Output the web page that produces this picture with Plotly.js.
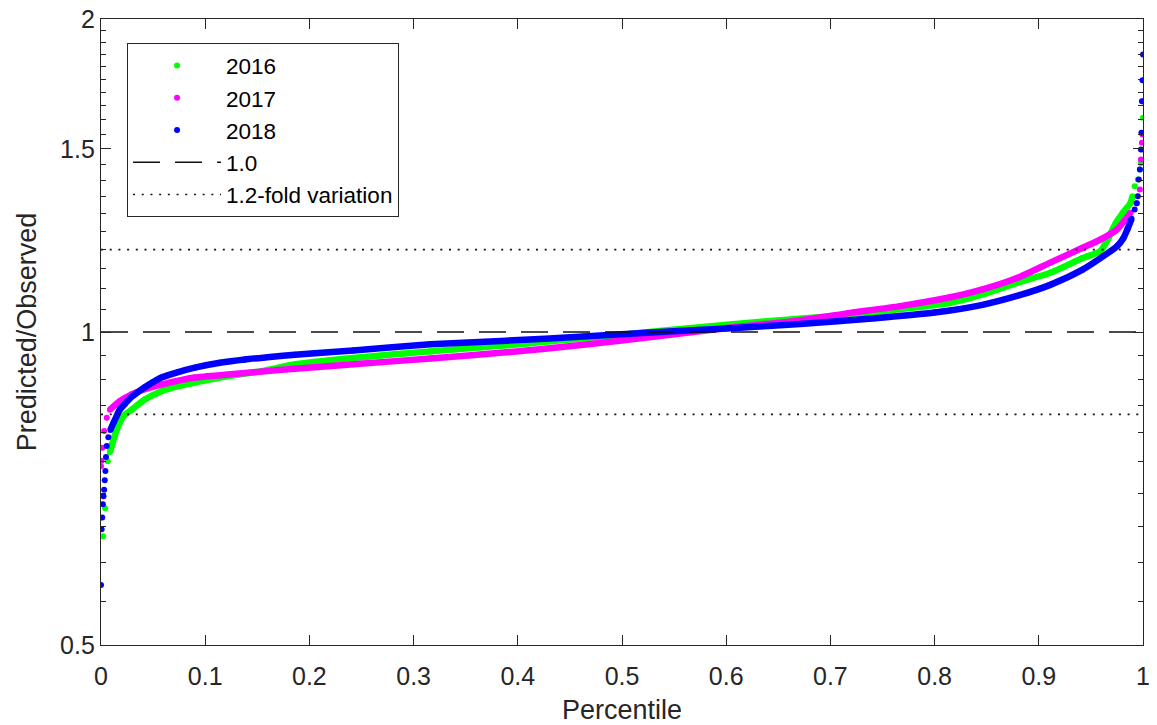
<!DOCTYPE html>
<html><head><meta charset="utf-8">
<script src="https://cdn.plot.ly/plotly-3.0.1.min.js"></script>
<style>html,body{margin:0;padding:0;background:#fff}#chart{width:1157px;height:725px}</style>
</head><body><div id="chart"></div>
<script>
// Percentile (fraction) and Predicted/Observed ratio
const pct2016 = [0.002, 0.004, 0.0065, 0.0086, 0.011, 0.013, 0.0166, 0.0214, 0.0295, 0.042,
  0.058, 0.074, 0.09, 0.122, 0.154, 0.187, 0.242, 0.316, 0.389, 0.463,
  0.536, 0.609, 0.671, 0.719, 0.767, 0.815, 0.846, 0.879, 0.911, 0.942,
  0.959, 0.966, 0.974, 0.981, 0.988, 0.99, 0.992, 0.995, 0.997, 0.998, 1.0];
const ratio2016 = [0.636, 0.677, 0.751, 0.766, 0.782, 0.794, 0.812, 0.83, 0.842, 0.861,
  0.877, 0.887, 0.894, 0.907, 0.917, 0.931, 0.944, 0.958, 0.971, 0.986,
  1.002, 1.018, 1.03, 1.039, 1.052, 1.067, 1.087, 1.115, 1.14, 1.178,
  1.196, 1.227, 1.273, 1.303, 1.331, 1.351, 1.381, 1.402, 1.433, 1.454, 1.607];

const pct2017 = [0, 0.0005, 0.0013, 0.003, 0.0055, 0.0086, 0.018, 0.0295, 0.042, 0.058,
  0.09, 0.122, 0.154, 0.186, 0.242, 0.316, 0.389, 0.463, 0.536, 0.609,
  0.671, 0.719, 0.767, 0.815, 0.846, 0.879, 0.911, 0.942, 0.959, 0.975,
  0.988, 0.994, 0.997, 0.998, 0.999, 0.9995, 1.0];
const ratio2017 = [0.743, 0.752, 0.774, 0.803, 0.827, 0.842, 0.858, 0.871, 0.881, 0.89,
  0.904, 0.91, 0.916, 0.922, 0.931, 0.943, 0.956, 0.972, 0.991, 1.011,
  1.026, 1.043, 1.059, 1.08, 1.099, 1.127, 1.166, 1.205, 1.227, 1.255,
  1.302, 1.33, 1.371, 1.465, 1.521, 1.549, 1.667];

const pct2018 = [0, 0.0006, 0.0012, 0.0018, 0.0024, 0.003, 0.0036, 0.0042, 0.0048, 0.0055,
  0.007, 0.009, 0.012, 0.015, 0.018, 0.023, 0.028, 0.035, 0.042, 0.05,
  0.058, 0.074, 0.09, 0.114, 0.138, 0.162, 0.186, 0.242, 0.316, 0.389,
  0.463, 0.536, 0.609, 0.671, 0.743, 0.8, 0.846, 0.879, 0.911, 0.942,
  0.962, 0.975, 0.981, 0.985, 0.989, 0.992, 0.994, 0.995, 0.996, 0.997,
  0.998, 0.9985, 0.999, 0.9995, 1.0];
const ratio2018 = [0.571, 0.646, 0.663, 0.683, 0.695, 0.705, 0.72, 0.735, 0.758, 0.777,
  0.792, 0.805, 0.818, 0.83, 0.842, 0.853, 0.864, 0.875, 0.885, 0.895,
  0.904, 0.915, 0.924, 0.934, 0.941, 0.946, 0.951, 0.96, 0.973, 0.981,
  0.99, 1.0, 1.009, 1.018, 1.031, 1.044, 1.062, 1.083, 1.11, 1.148,
  1.183, 1.209, 1.23, 1.255, 1.285, 1.312, 1.33, 1.351, 1.402, 1.433,
  1.498, 1.555, 1.667, 1.746, 1.849];

const seriesNames = ['2016', '2017', '2018'];
const unityLevel = 1.0;
const foldFactor = 1.2;

const xTickVals = [0, 0.1, 0.2, 0.3, 0.4, 0.5, 0.6, 0.7, 0.8, 0.9, 1];
const xTickText = ['0', '0.1', '0.2', '0.3', '0.4', '0.5', '0.6', '0.7', '0.8', '0.9', '1'];
const yTickVals = [0.5, 1, 1.5, 2];
const yTickText = ['0.5', '1', '1.5', '2'];
const yMinorVals = [0.55, 0.6, 0.65, 0.7, 0.75, 0.8, 0.85, 0.9, 0.95,
  1.05, 1.1, 1.15, 1.2, 1.25, 1.3, 1.35, 1.4, 1.45,
  1.55, 1.6, 1.65, 1.7, 1.75, 1.8, 1.85, 1.9, 1.95];

const FONT = 'Liberation Sans, Arial, Helvetica, sans-serif';
const AX = '#262626';
const colors = ['#00ff00', '#ff00ff', '#0000ff'];
const xs = [pct2016, pct2017, pct2018];
const ys = [ratio2016, ratio2017, ratio2018];

const traces = [];
for (let i = 0; i < 3; i++) {
  const lx = [], ly = [];
  xs[i].forEach((v, k) => { if (v >= 0.008 && v <= 0.99) { lx.push(v); ly.push(ys[i][k]); } });
  traces.push({type: 'scatter', mode: 'lines', x: lx, y: ly, showlegend: false, hoverinfo: 'skip',
    line: {color: colors[i], width: 6.5, shape: 'spline', smoothing: 0.6}});
  traces.push({type: 'scatter', mode: 'markers', name: seriesNames[i], x: xs[i], y: ys[i],
    marker: {color: colors[i], size: 6}});
}
traces.push({type: 'scatter', mode: 'lines', name: unityLevel.toFixed(1), x: [0, 1], y: [unityLevel, unityLevel],
  line: {color: '#111', width: 1.4, dash: '27px,15px'}});
traces.push({type: 'scatter', mode: 'lines', name: foldFactor + '-fold variation',
  x: [0, 1, null, 0, 1], y: [foldFactor, foldFactor, null, 1 / foldFactor, 1 / foldFactor],
  line: {color: '#111', width: 1.6, dash: '2px,6.7px'}});

const layout = {
  width: 1157, height: 725,
  margin: {l: 101, r: 14, t: 19, b: 80},
  paper_bgcolor: '#fff', plot_bgcolor: '#fff',
  font: {family: FONT, color: AX},
  showlegend: true,
  legend: {x: 0.025, y: 0.961, xanchor: 'left', yanchor: 'top', bgcolor: '#fff',
    bordercolor: AX, borderwidth: 1, font: {family: FONT, size: 22.5, color: '#000'},
    itemwidth: 88, tracegroupgap: 0},
  xaxis: {range: [0, 1], tickmode: 'array', tickvals: xTickVals, ticktext: xTickText,
    ticks: 'inside', ticklen: 10, tickwidth: 1, tickcolor: AX,
    showline: true, linecolor: AX, linewidth: 1.3, mirror: 'ticks',
    showgrid: false, zeroline: false, automargin: false, ticklabelstandoff: 9,
    tickfont: {family: FONT, size: 25, color: AX},
    title: {text: 'Percentile', font: {family: FONT, size: 27, color: AX}, standoff: 11}},
  yaxis: {type: 'log', range: [Math.log10(0.5), Math.log10(2)], tickmode: 'array',
    tickvals: yTickVals, ticktext: yTickText,
    ticks: 'inside', ticklen: 10, tickwidth: 1, tickcolor: AX,
    minor: {tickmode: 'array', tickvals: yMinorVals, ticks: 'inside', ticklen: 5, tickwidth: 1, tickcolor: AX, showgrid: false},
    showline: true, linecolor: AX, linewidth: 1.3, mirror: 'ticks',
    showgrid: false, zeroline: false, automargin: false,
    tickfont: {family: FONT, size: 25, color: AX},
    title: {text: 'Predicted/Observed', font: {family: FONT, size: 27, color: AX}, standoff: 15}}
};

Plotly.newPlot('chart', traces, layout, {displayModeBar: false, responsive: false});
</script>
</body></html>
